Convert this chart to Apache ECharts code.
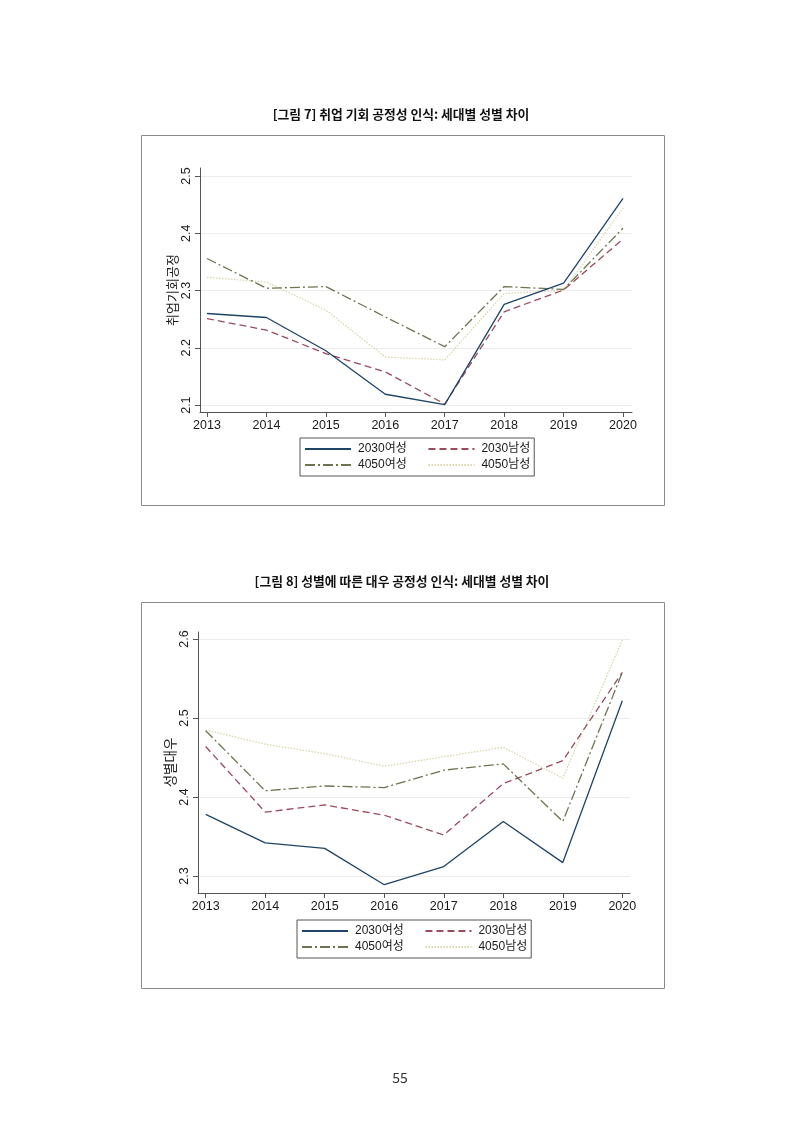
<!DOCTYPE html>
<html>
<head>
<meta charset="utf-8">
<script src="https://cdn.jsdelivr.net/npm/echarts@6/dist/echarts.min.js"></script>
<style>
  html, body { margin: 0; padding: 0; background: #fff; }
  #page { width: 800px; height: 1132px; }
</style>
</head>
<body>
<div id="page"></div>
<script>
// years on the x axis
const years = [2013, 2014, 2015, 2016, 2017, 2018, 2019, 2020];
const seriesNames = ['2030여성', '2030남성', '4050여성', '4050남성'];

// [그림 7] 취업 기회 공정성
const jobF2030 = [2.260, 2.253, 2.195, 2.119, 2.101, 2.276, 2.313, 2.461];
const jobM2030 = [2.251, 2.231, 2.190, 2.158, 2.102, 2.263, 2.301, 2.390];
const jobF4050 = [2.356, 2.304, 2.307, 2.254, 2.202, 2.307, 2.302, 2.409];
const jobM4050 = [2.323, 2.315, 2.266, 2.184, 2.179, 2.295, 2.300, 2.444];
const jobTicks = [2.1, 2.2, 2.3, 2.4, 2.5];

// [그림 8] 성별에 따른 대우 공정성
const genF2030 = [2.378, 2.342, 2.335, 2.289, 2.312, 2.369, 2.317, 2.522];
const genM2030 = [2.464, 2.381, 2.390, 2.377, 2.352, 2.417, 2.446, 2.558];
const genF4050 = [2.484, 2.408, 2.414, 2.412, 2.434, 2.442, 2.369, 2.558];
const genM4050 = [2.485, 2.467, 2.455, 2.439, 2.451, 2.463, 2.424, 2.599];
const genTicks = [2.3, 2.4, 2.5, 2.6];

const FONT = "'Liberation Sans', 'Noto Sans CJK KR', sans-serif";
const KFONT = "'Noto Sans CJK KR', sans-serif";

const styles = [
  { color: '#1f4466', type: 'solid' },
  { color: '#9a4a5c', type: [7, 4] },
  { color: '#6b7650', type: [10, 3, 2, 3] },
  { color: '#dcd6ac', type: [1.5, 1.5] }
];

function pairs(vals) {
  return years.map((y, i) => [y, vals[i]]);
}

function xAxisOf(gridIndex, min, max) {
  return {
    gridIndex,
    type: 'value',
    min, max,
    axisLine: { lineStyle: { color: '#555', width: 1 } },
    axisTick: { show: true, length: 5, customValues: years, lineStyle: { color: '#555' } },
    axisLabel: {
      customValues: years, color: '#1a1a1a', fontSize: 12.5, fontFamily: FONT, margin: 7,
      formatter: v => String(Math.round(v))
    },
    splitLine: { show: false }
  };
}

function yAxisOf(gridIndex, min, max, ticks, name, nameSize) {
  return {
    gridIndex,
    type: 'value',
    min, max,
    name,
    nameLocation: 'middle',
    nameGap: 21,
    nameMoveOverlap: false,
    nameTextStyle: { color: '#1a1a1a', fontSize: nameSize, fontFamily: KFONT },
    axisLine: { show: true, lineStyle: { color: '#555', width: 1 } },
    axisTick: { show: true, length: 5, customValues: ticks, lineStyle: { color: '#555' } },
    axisLabel: {
      customValues: ticks, rotate: 90, color: '#1a1a1a', fontSize: 12.5, fontFamily: FONT, margin: 7,
      formatter: v => v.toFixed(1)
    },
    splitLine: { show: true, lineStyle: { color: '#ececec', width: 1 } }
  };
}

function seriesOf(idx, dataSets) {
  return dataSets.map((vals, i) => ({
    name: seriesNames[i],
    type: 'line',
    xAxisIndex: idx,
    yAxisIndex: idx,
    symbol: 'none',
    silent: true,
    data: pairs(vals),
    lineStyle: { color: styles[i].color, type: styles[i].type, width: 1.3 },
    itemStyle: { color: styles[i].color },
    z: 10 - i
  }));
}

function legendOf(left, top) {
  return {
    left, top,
    width: 240,
    orient: 'horizontal',
    data: seriesNames,
    itemWidth: 46,
    itemHeight: 12,
    itemGap: 4,
    padding: [5, 4, 5, 4],
    borderColor: '#555',
    borderWidth: 1,
    selectedMode: false,
    itemStyle: { opacity: 0 },
    // pad left column labels so the second column sits further right
    formatter: name => seriesNames.indexOf(name) % 2 === 0 ? name + '\u00a0'.repeat(5) : name,
    textStyle: { color: '#1a1a1a', fontSize: 12, fontFamily: FONT, padding: [0, 0, 0, 2] }
  };
}

const chart = echarts.init(document.getElementById('page'), null, { renderer: 'canvas' });

chart.setOption({
  backgroundColor: '#fff',
  animation: false,
  graphic: [
    { type: 'rect', shape: { x: 141.5, y: 135.5, width: 523, height: 370 },
      style: { fill: 'none', stroke: '#8a8a8a', lineWidth: 1 } },
    { type: 'rect', shape: { x: 141.5, y: 602.5, width: 523, height: 386 },
      style: { fill: 'none', stroke: '#8a8a8a', lineWidth: 1 } },
    { type: 'text', x: 401, y: 114, style: {
      text: '[그림 7] 취업 기회 공정성 인식: 세대별 성별 차이', fill: '#111',
      font: 'bold 12.8px ' + KFONT, align: 'center', verticalAlign: 'middle' } },
    { type: 'text', x: 402, y: 581, style: {
      text: '[그림 8] 성별에 따른 대우 공정성 인식: 세대별 성별 차이', fill: '#111',
      font: 'bold 12.8px ' + KFONT, align: 'center', verticalAlign: 'middle' } },
    { type: 'text', x: 400, y: 1078, style: {
      text: '55', fill: '#333', font: '14px ' + KFONT, align: 'center', verticalAlign: 'middle' } }
  ],
  grid: [
    { left: 200, top: 168, width: 432, height: 244 },
    { left: 198, top: 632, width: 432, height: 261 }
  ],
  legend: [legendOf(300, 438), legendOf(297, 920)],
  xAxis: [
    xAxisOf(0, 2012.882, 2020.151),
    xAxisOf(1, 2012.871, 2020.129)
  ],
  yAxis: [
    yAxisOf(0, 2.088, 2.514, jobTicks, '취업기회공정', 13),
    yAxisOf(1, 2.2785, 2.609, genTicks, '성별대우', 13.5)
  ],
  series: [
    ...seriesOf(0, [jobF2030, jobM2030, jobF4050, jobM4050]),
    ...seriesOf(1, [genF2030, genM2030, genF4050, genM4050])
  ]
});
</script>
</body>
</html>
